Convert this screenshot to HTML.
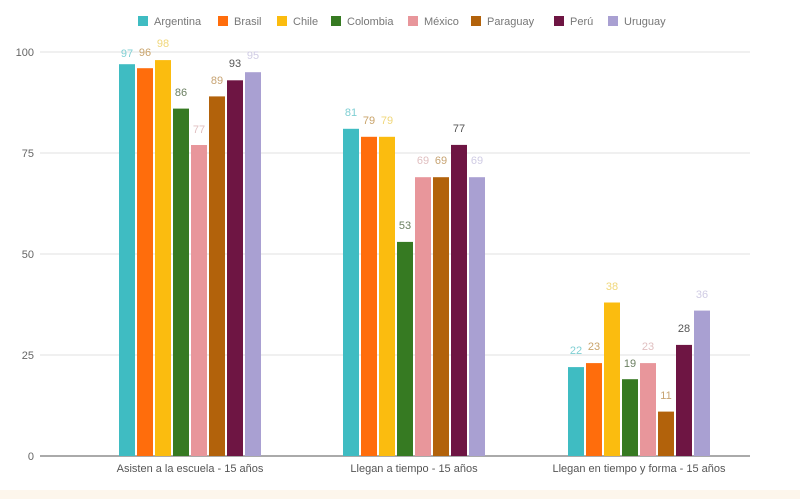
<!DOCTYPE html>
<html><head><meta charset="utf-8"><style>
body{margin:0;background:#fff;}
svg{display:block;font-family:"Liberation Sans",sans-serif;}
</style></head><body>
<svg width="800" height="499" viewBox="0 0 800 499" xmlns="http://www.w3.org/2000/svg">
<rect width="800" height="499" fill="#fff"/>
<rect y="490" width="800" height="9" fill="#fdf6ec"/>
<g stroke="#e2e2e2" stroke-width="1">
<line x1="40" y1="52" x2="750" y2="52"/>
<line x1="40" y1="153" x2="750" y2="153"/>
<line x1="40" y1="254" x2="750" y2="254"/>
<line x1="40" y1="355" x2="750" y2="355"/>
</g>
<g font-size="11" fill="#666" text-anchor="end">
<text x="34" y="56">100</text><text x="34" y="157">75</text><text x="34" y="258">50</text><text x="34" y="359">25</text><text x="34" y="460">0</text>
</g>
<g font-size="11" fill="#777">
<rect x="138" y="16" width="10" height="10" fill="#3fbcc2"/><text x="154" y="25">Argentina</text>
<rect x="218" y="16" width="10" height="10" fill="#ff6d0c"/><text x="234" y="25">Brasil</text>
<rect x="277" y="16" width="10" height="10" fill="#fbbc0f"/><text x="293" y="25">Chile</text>
<rect x="331" y="16" width="10" height="10" fill="#367a22"/><text x="347" y="25">Colombia</text>
<rect x="408" y="16" width="10" height="10" fill="#e8969b"/><text x="424" y="25">México</text>
<rect x="471" y="16" width="10" height="10" fill="#b2620b"/><text x="487" y="25">Paraguay</text>
<rect x="554" y="16" width="10" height="10" fill="#6e1543"/><text x="570" y="25">Perú</text>
<rect x="608" y="16" width="10" height="10" fill="#a9a0d2"/><text x="624" y="25">Uruguay</text>
</g>
<g id="bars"></g>
<line x1="40" y1="456" x2="750" y2="456" stroke="#555" stroke-width="1"/>
<g font-size="11" fill="#555" text-anchor="middle">
<text x="190" y="472">Asisten a la escuela - 15 años</text>
<text x="414" y="472">Llegan a tiempo - 15 años</text>
<text x="639" y="472">Llegan en tiempo y forma - 15 años</text>
</g>
<g font-size="11" text-anchor="middle">
<!-- group 1 -->
<rect x="119" y="64.2" width="16" height="391.8" fill="#3fbcc2"/><text x="127" y="57" fill="#7fcfd3">97</text>
<rect x="137" y="68.2" width="16" height="387.8" fill="#ff6d0c"/><text x="145" y="56" fill="#c9a36a">96</text>
<rect x="155" y="60.1" width="16" height="395.9" fill="#fbbc0f"/><text x="163" y="47" fill="#f0d77a">98</text>
<rect x="173" y="108.6" width="16" height="347.4" fill="#367a22"/><text x="181" y="96" fill="#6a7f60">86</text>
<rect x="191" y="145" width="16" height="311" fill="#e8969b"/><text x="199" y="133" fill="#e0bfc0">77</text>
<rect x="209" y="96.4" width="16" height="359.6" fill="#b2620b"/><text x="217" y="84" fill="#c7a372">89</text>
<rect x="227" y="80.3" width="16" height="375.7" fill="#6e1543"/><text x="235" y="67" fill="#555">93</text>
<rect x="245" y="72.2" width="16" height="383.8" fill="#a9a0d2"/><text x="253" y="59" fill="#d0cce4">95</text>
<!-- group 2 -->
<rect x="343" y="128.8" width="16" height="327.2" fill="#3fbcc2"/><text x="351" y="116" fill="#7fcfd3">81</text>
<rect x="361" y="136.8" width="16" height="319.2" fill="#ff6d0c"/><text x="369" y="124" fill="#c9a36a">79</text>
<rect x="379" y="136.8" width="16" height="319.2" fill="#fbbc0f"/><text x="387" y="124" fill="#f0d77a">79</text>
<rect x="397" y="241.9" width="16" height="214.1" fill="#367a22"/><text x="405" y="229" fill="#6a7f60">53</text>
<rect x="415" y="177.2" width="16" height="278.8" fill="#e8969b"/><text x="423" y="164" fill="#e0bfc0">69</text>
<rect x="433" y="177.2" width="16" height="278.8" fill="#b2620b"/><text x="441" y="164" fill="#c7a372">69</text>
<rect x="451" y="144.9" width="16" height="311.1" fill="#6e1543"/><text x="459" y="132" fill="#555">77</text>
<rect x="469" y="177.2" width="16" height="278.8" fill="#a9a0d2"/><text x="477" y="164" fill="#d0cce4">69</text>
<!-- group 3 -->
<rect x="568" y="367.1" width="16" height="88.9" fill="#3fbcc2"/><text x="576" y="354" fill="#7fcfd3">22</text>
<rect x="586" y="363.1" width="16" height="92.9" fill="#ff6d0c"/><text x="594" y="350" fill="#c9a36a">23</text>
<rect x="604" y="302.5" width="16" height="153.5" fill="#fbbc0f"/><text x="612" y="290" fill="#f0d77a">38</text>
<rect x="622" y="379.2" width="16" height="76.8" fill="#367a22"/><text x="630" y="367" fill="#6a7f60">19</text>
<rect x="640" y="363.1" width="16" height="92.9" fill="#e8969b"/><text x="648" y="350" fill="#e0bfc0">23</text>
<rect x="658" y="411.6" width="16" height="44.4" fill="#b2620b"/><text x="666" y="399" fill="#c7a372">11</text>
<rect x="676" y="344.9" width="16" height="111.1" fill="#6e1543"/><text x="684" y="332" fill="#555">28</text>
<rect x="694" y="310.6" width="16" height="145.4" fill="#a9a0d2"/><text x="702" y="298" fill="#d0cce4">36</text>
</g>
</svg>
</body></html>
